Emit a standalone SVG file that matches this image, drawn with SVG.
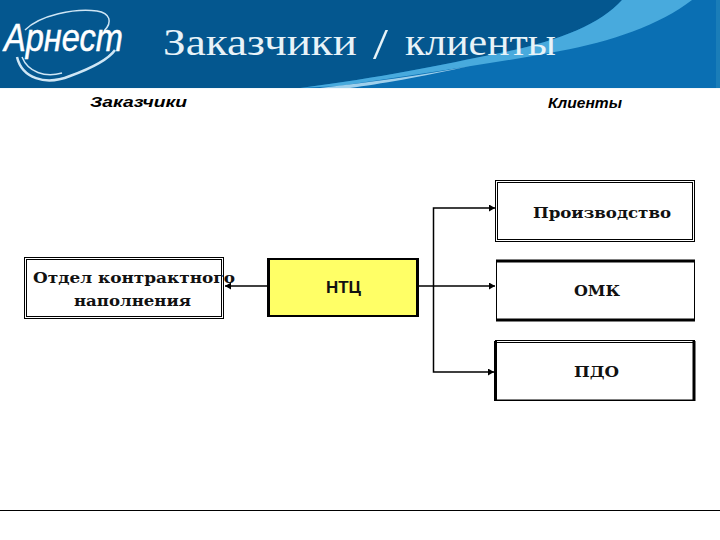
<svg xmlns="http://www.w3.org/2000/svg" width="720" height="540" viewBox="0 0 720 540">
<style>
.box{fill:#fff;stroke:#000;stroke-width:1}
.inner{fill:none;stroke:#000;stroke-width:1}
.thick{fill:none;stroke:#000;stroke-width:3}
.serif{font-family:"DejaVu Serif","Liberation Serif",serif;font-weight:700;font-size:15px;fill:#111}
.sans{font-family:"Liberation Sans",Arial,sans-serif;font-weight:700;font-size:16px;fill:#111}
.head{font-family:"Liberation Sans",Arial,sans-serif;font-weight:700;font-style:italic;font-size:15px;fill:#000}
.wire{fill:none;stroke:#000;stroke-width:1.5}
.ring{fill:none;stroke:#cfe6f5}
.ttl{font-family:"Liberation Serif","DejaVu Serif",serif;font-size:37px;fill:#e8f3f8}
</style>
<defs>
<marker id="arrow" markerUnits="userSpaceOnUse" markerWidth="7" markerHeight="7" refX="6" refY="3.500" orient="auto"><path d="M0 0L6 3.500L0 7Z" fill="#000"/></marker>
</defs>
<rect width="720" height="540" fill="#fff"/>
<g id="banner">
<rect width="720" height="88" fill="#0a6fb3"/>
<path d="M0 0H622C600 25 555 42 500 53C440 65 380 78 300 88H0Z" fill="#04578f"/>
<path d="M622 0H692C660 25 610 42 560 51C490 64 420 74 340 86L300 88C380 78 440 65 500 53C555 42 600 25 622 0Z" fill="#48aadd"/>
<path d="M320 88C370 82 420 76 470 66C420 77 380 84 350 88Z" fill="#9fd0ec"/>
<path d="M716 0H720V88H716Z" fill="#1a7db8"/>
<rect y="88" width="720" height="1" fill="#f4f8fb"/>
</g>
<g id="logo">
<path d="M25 30C40 15 75 8 97 11C110 13 113 22 104 31" class="ring" stroke-width="1.500"/>
<path d="M17 57C22 78 45 86 70 76C92 68 108 60 115 50" class="ring" stroke-width="2.500"/>
<path d="M22 57C28 72 45 78 62 73" class="ring" stroke-width="1.500"/>
<text x="4" y="51" font-family="'Liberation Sans',Arial,sans-serif" font-style="italic" font-size="38" fill="#fff" stroke="#fff" stroke-width="0.500" textLength="119" lengthAdjust="spacingAndGlyphs">Арнест</text>
</g>
<g id="title">
<text x="163" y="55" class="ttl" textLength="194" lengthAdjust="spacingAndGlyphs">Заказчики</text>
<text x="373" y="59" class="ttl" style="font-size:44px" textLength="15" lengthAdjust="spacingAndGlyphs">/</text>
<text x="405" y="55" class="ttl" textLength="151" lengthAdjust="spacingAndGlyphs">клиенты</text>
</g>
<text x="90" y="107" class="head" textLength="97" lengthAdjust="spacingAndGlyphs">Заказчики</text>
<text x="548" y="108" class="head" textLength="74" lengthAdjust="spacingAndGlyphs">Клиенты</text>
<g id="connectors">
<path class="wire" d="M268 286H225" marker-end="url(#arrow)"/>
<path class="wire" d="M418 286H495" marker-end="url(#arrow)"/>
<path class="wire" d="M433.500 286V208H495" marker-end="url(#arrow)"/>
<path class="wire" d="M433.500 286V372H494" marker-end="url(#arrow)"/>
</g>
<g id="node-otdel">
<rect x="24.500" y="257.500" width="199" height="61" class="box"/>
<rect x="26.500" y="259.500" width="195" height="57" class="inner"/>
<text x="33" y="283" class="serif" textLength="202" lengthAdjust="spacingAndGlyphs">Отдел контрактного</text>
<text x="74" y="306" class="serif" textLength="117" lengthAdjust="spacingAndGlyphs">наполнения</text>
</g>
<g id="node-ntc">
<rect x="268.500" y="259" width="149" height="57" fill="#ffff66" stroke="#000" stroke-width="2"/>
<path d="M268.500 258V317M417.500 258V317" class="thick"/>
<text x="326" y="293" class="sans" textLength="35" lengthAdjust="spacingAndGlyphs">НТЦ</text>
</g>
<g id="node-proizvodstvo">
<rect x="495.500" y="180.500" width="199" height="61" class="box"/>
<rect x="497.500" y="182.500" width="195" height="57" class="inner"/>
<text x="533" y="218" class="serif" textLength="138" lengthAdjust="spacingAndGlyphs">Производство</text>
</g>
<g id="node-omk">
<rect x="496.500" y="260.500" width="198" height="60" class="box"/>
<path d="M496 261H695M496 320H695" class="thick"/>
<text x="574" y="296" class="serif" textLength="46" lengthAdjust="spacingAndGlyphs">ОМК</text>
</g>
<g id="node-pdo">
<rect x="495.500" y="340.500" width="199" height="60" class="box"/>
<path d="M495.500 341V401M694 341V401" class="thick"/>
<path d="M495 342.500H695M495 400H695" class="inner"/>
<text x="574" y="377" class="serif" textLength="45" lengthAdjust="spacingAndGlyphs">ПДО</text>
</g>
<line id="footer-rule" x1="0" y1="510.500" x2="720" y2="510.500" stroke="#000" stroke-width="1"/>
</svg>
